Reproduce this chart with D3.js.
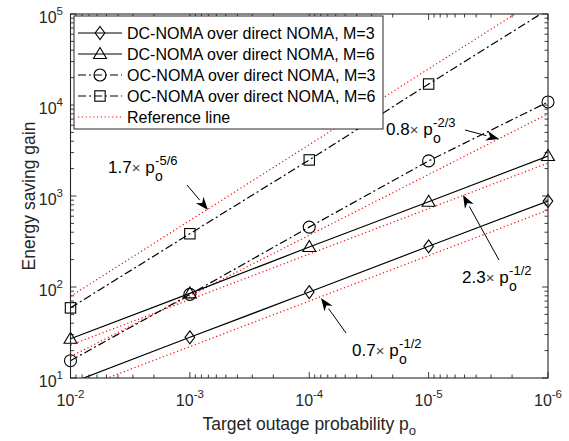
<!DOCTYPE html>
<html>
<head>
<meta charset="utf-8">
<script src="https://cdn.jsdelivr.net/npm/d3@7"></script>
<style>
  body { margin: 0; background: #fff; }
  text { font-family: Arial, "Liberation Sans", sans-serif; fill: #262626; }
</style>
</head>
<body>
<div id="chart"></div>
<script>
// data
let outage = [1e-2, 1e-3, 1e-4, 1e-5, 1e-6];
let dc_m3 = [8.8, 28, 88, 280, 880];
let dc_m6 = [27, 85, 275, 865, 2750];
let oc_m3 = [15.5, 83, 455, 2430, 10800];
let oc_m6 = [59, 385, 2490, 17000, 112000];

// reference lines, value at p=1e-2 and p=1e-6
let refEnds = [1e-2, 1e-6];
let ref_a = [79, 170000];   // 1.7 x p^-5/6
let ref_b = [17.2, 8000];   // 0.8 x p^-2/3
let ref_c = [23, 2300];     // 2.3 x p^-1/2
let ref_d = [7, 700];       // 0.7 x p^-1/2

let xTickExp = [-2, -3, -4, -5, -6];
let yTickExp = [1, 2, 3, 4, 5];

const width = 569, height = 441;
const pLeft = 70.5, pRight = 548, pTop = 14, pBottom = 378;

let svg = d3.select("#chart").append("svg")
    .attr("width", width)
    .attr("height", height);

let x = d3.scaleLog().domain([1e-2, 1e-6]).range([pLeft, pRight]);
let y = d3.scaleLog().domain([10, 1e5]).range([pBottom, pTop]);

svg.append("defs").append("clipPath").attr("id", "clip")
  .append("rect").attr("x", pLeft).attr("y", pTop)
  .attr("width", pRight - pLeft).attr("height", pBottom - pTop);

// minor ticks
let xMinor = [], yMinor = [];
for (let e = -6; e < -2; e++) for (let m = 2; m < 10; m++) xMinor.push(m * Math.pow(10, e));
for (let e = 1; e < 5; e++) for (let m = 2; m < 10; m++) yMinor.push(m * Math.pow(10, e));
let xMajor = xTickExp.map(e => Math.pow(10, e));
let yMajor = yTickExp.map(e => Math.pow(10, e));

let ticks = svg.append("g").attr("stroke", "#262626").attr("stroke-width", 0.9);
function tickLines(vals, len, horiz) {
  vals.forEach(v => {
    if (horiz) {
      let px = x(v);
      ticks.append("line").attr("x1", px).attr("x2", px).attr("y1", pBottom).attr("y2", pBottom - len);
      ticks.append("line").attr("x1", px).attr("x2", px).attr("y1", pTop).attr("y2", pTop + len);
    } else {
      let py = y(v);
      ticks.append("line").attr("y1", py).attr("y2", py).attr("x1", pLeft).attr("x2", pLeft + len);
      ticks.append("line").attr("y1", py).attr("y2", py).attr("x1", pRight).attr("x2", pRight - len);
    }
  });
}
tickLines(xMajor, 6, true);
tickLines(xMinor, 3.5, true);
tickLines(yMajor, 6, false);
tickLines(yMinor, 3.5, false);

// tick labels
xTickExp.forEach(e => {
  let t = svg.append("text")
      .attr("x", x(Math.pow(10, e)))
      .attr("y", 406)
      .attr("text-anchor", "middle")
      .style("font-size", "16px");
  t.append("tspan").text("10");
  t.append("tspan").attr("dy", -8).style("font-size", "11.5px").text(e);
});
yTickExp.forEach(e => {
  let t = svg.append("text")
      .attr("x", 63)
      .attr("y", y(Math.pow(10, e)) + 9)
      .attr("text-anchor", "end")
      .style("font-size", "16px");
  t.append("tspan").text("10");
  t.append("tspan").attr("dy", -8).style("font-size", "11.5px").text(e);
});

// axis labels
let xl = svg.append("text")
    .attr("x", (pLeft + pRight) / 2)
    .attr("y", 430)
    .attr("text-anchor", "middle")
    .style("font-size", "17.5px");
xl.append("tspan").text("Target outage probability p");
xl.append("tspan").attr("dy", 5).style("font-size", "13px").text("o");

svg.append("text")
    .attr("transform", `translate(35, ${(pTop + pBottom) / 2}) rotate(-90)`)
    .attr("text-anchor", "middle")
    .style("font-size", "17.5px")
    .text("Energy saving gain");

// plot group
let plot = svg.append("g").attr("clip-path", "url(#clip)");

let line = d3.line().x(d => x(d[0])).y(d => y(d[1]));

// reference lines
[ref_a, ref_b, ref_c, ref_d].forEach(r => {
  plot.append("path")
      .datum(refEnds.map((p, i) => [p, r[i]]))
      .attr("d", line)
      .attr("fill", "none")
      .attr("stroke", "#ff0000")
      .attr("stroke-width", 1.2)
      .attr("stroke-dasharray", "1.2,2.6");
});

const dashDot = "8,3,2,3";
let series = [
  { name: "DC-NOMA over direct NOMA, M=3", vals: dc_m3, dash: null, marker: "diamond" },
  { name: "DC-NOMA over direct NOMA, M=6", vals: dc_m6, dash: null, marker: "triangle" },
  { name: "OC-NOMA over direct NOMA, M=3", vals: oc_m3, dash: dashDot, marker: "circle" },
  { name: "OC-NOMA over direct NOMA, M=6", vals: oc_m6, dash: dashDot, marker: "square" }
];

function drawMarker(g, kind, cx, cy) {
  let m;
  if (kind === "diamond") {
    m = g.append("path").attr("d", `M${cx},${cy - 6.5}L${cx + 4.8},${cy}L${cx},${cy + 6.5}L${cx - 4.8},${cy}Z`);
  } else if (kind === "triangle") {
    m = g.append("path").attr("d", `M${cx},${cy - 6.5}L${cx + 6.5},${cy + 4.5}L${cx - 6.5},${cy + 4.5}Z`);
  } else if (kind === "circle") {
    m = g.append("circle").attr("cx", cx).attr("cy", cy).attr("r", 6);
  } else {
    m = g.append("rect").attr("x", cx - 5.2).attr("y", cy - 5.2).attr("width", 10.4).attr("height", 10.4);
  }
  m.attr("fill", "none").attr("stroke", "#000").attr("stroke-width", 1.1);
}

series.forEach(s => {
  let pts = outage.map((p, i) => [p, s.vals[i]]);
  plot.append("path")
      .datum(pts)
      .attr("d", line)
      .attr("fill", "none")
      .attr("stroke", "#000")
      .attr("stroke-width", 1.2)
      .attr("stroke-dasharray", s.dash);
});
let markers = svg.append("g");
series.forEach(s => {
  outage.forEach((p, i) => {
    let v = s.vals[i];
    if (v >= 10 && v <= 1e5) drawMarker(markers, s.marker, x(p), y(v));
  });
});

// frame
svg.append("rect")
    .attr("x", pLeft).attr("y", pTop)
    .attr("width", pRight - pLeft).attr("height", pBottom - pTop)
    .attr("fill", "none").attr("stroke", "#262626").attr("stroke-width", 1.1);

// legend
let lg = svg.append("g");
lg.append("rect")
    .attr("x", 74).attr("y", 16)
    .attr("width", 309).attr("height", 113)
    .attr("fill", "#fff").attr("stroke", "#262626").attr("stroke-width", 1);
let legendY = [33, 54, 75, 96, 117];
series.forEach((s, i) => {
  let ly = legendY[i];
  lg.append("line").attr("x1", 78).attr("x2", 122).attr("y1", ly).attr("y2", ly)
    .attr("stroke", "#000").attr("stroke-width", 1.2).attr("stroke-dasharray", s.dash);
  drawMarker(lg, s.marker, 100, ly);
  lg.append("text").attr("x", 127).attr("y", ly + 5.5).style("font-size", "16px").style("fill", "#000").text(s.name);
});
lg.append("line").attr("x1", 78).attr("x2", 122).attr("y1", legendY[4]).attr("y2", legendY[4])
  .attr("stroke", "#ff0000").attr("stroke-width", 1.2).attr("stroke-dasharray", "1.2,2.6");
lg.append("text").attr("x", 127).attr("y", legendY[4] + 5.5).style("font-size", "16px").style("fill", "#000").text("Reference line");

// annotations
let annotations = [
  { coef: "1.7", exp: "-5/6", tx: 108, ty: 173, from: [187, 185], to: [208, 210] },
  { coef: "0.8", exp: "-2/3", tx: 386, ty: 135, from: [465, 130], to: [499, 139] },
  { coef: "2.3", exp: "-1/2", tx: 462, ty: 283, from: [499, 260], to: [463, 195] },
  { coef: "0.7", exp: "-1/2", tx: 352, ty: 356, from: [346, 333], to: [321, 298] }
];
annotations.forEach(a => {
  let t = svg.append("text").attr("x", a.tx).attr("y", a.ty).style("font-size", "17px").style("fill", "#000");
  t.append("tspan").text(a.coef);
  t.append("tspan").style("font-size", "15px").style("fill", "#444").text("\u00d7");
  t.append("tspan").text(" p");
  let w = t.node().getComputedTextLength();
  svg.append("text").attr("x", a.tx + w + 0.5).attr("y", a.ty + 8)
     .style("font-size", "14px").style("fill", "#000").text("o");
  svg.append("text").attr("x", a.tx + w + 0.5).attr("y", a.ty - 8)
     .style("font-size", "13px").style("fill", "#000").text(a.exp);

  let dx = a.to[0] - a.from[0], dy = a.to[1] - a.from[1];
  let len = Math.sqrt(dx * dx + dy * dy), ux = dx / len, uy = dy / len;
  let hl = 13, hw = 5;
  let bx = a.to[0] - ux * hl, by = a.to[1] - uy * hl;
  svg.append("line").attr("x1", a.from[0]).attr("y1", a.from[1]).attr("x2", bx).attr("y2", by)
     .attr("stroke", "#000").attr("stroke-width", 1);
  let nx = -uy, ny = ux;
  let ix = a.to[0] - ux * hl * 0.7, iy = a.to[1] - uy * hl * 0.7;
  svg.append("path")
     .attr("d", `M${a.to[0]},${a.to[1]}L${bx + nx * hw},${by + ny * hw}L${ix},${iy}L${bx - nx * hw},${by - ny * hw}Z`)
     .attr("fill", "#000");
});
</script>
</body>
</html>
